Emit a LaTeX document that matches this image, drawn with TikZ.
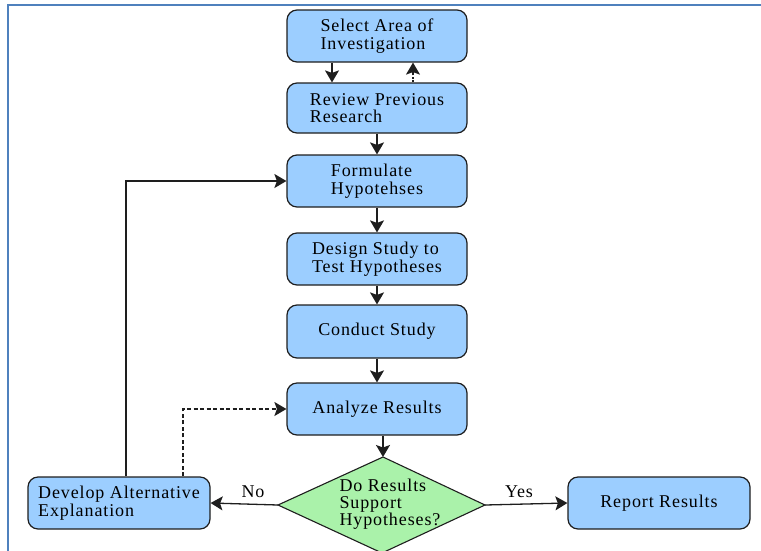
\documentclass[tikz,border=0pt]{standalone}
\usepackage{fontspec}
\setmainfont{Liberation Serif}[LetterSpace=5]
\usetikzlibrary{arrows.meta}
\definecolor{boxblue}{RGB}{156,206,255}
\definecolor{qgreen}{RGB}{170,242,170}
\definecolor{framebl}{RGB}{79,129,189}
\definecolor{edge}{RGB}{30,30,30}

\begin{document}
\begin{tikzpicture}[x=1pt,y=-1pt,
  stepbox/.style={draw=edge, fill=boxblue, rounded corners=10pt, line width=1.2pt,
    minimum width=180pt, minimum height=52pt, inner sep=0pt, align=left,
    font=\fontsize{18}{17.5}\selectfont},
  arr/.style={draw=edge, line width=1.3pt, -{Stealth[length=12pt,width=14pt,inset=2.5pt]}},
  lbl/.style={font=\fontsize{18}{17}\selectfont}]

\useasboundingbox (0,0) rectangle (761,550);
\clip (0,0) rectangle (761,550);

% frame
\draw[framebl, line width=2.5pt] (8,552) -- (8,5) -- (763,5);

% process steps
\node[stepbox] (sel)  at (377,36)    {Select Area of\\Investigation};
\node[stepbox, minimum height=50pt] (rev) at (377,108) {Review Previous\\Research};
\node[stepbox] (form) at (377,181)   {Formulate\\Hypotehses};
\node[stepbox] (des)  at (377,259)   {Design Study to\\Test Hypotheses};
\node[stepbox, minimum height=53pt] (con) at (377,331.5) {Conduct Study};
\node[stepbox] (ana)  at (377,409)   {Analyze Results};
\node[stepbox, minimum width=182pt] (dev)  at (119,503) {Develop Alternative\\Explanation};
\node[stepbox, minimum width=182pt] (rep)  at (659,503) {Report Results};

% decision
\coordinate (qT) at (383,457);
\coordinate (qR) at (485,505);
\coordinate (qB) at (382,553);
\coordinate (qL) at (278,505);
\draw[draw=edge, fill=qgreen, line width=1.1pt] (qT) -- (qR) -- (qB) -- (qL) -- cycle;
\node[align=left, inner sep=0pt, font=\fontsize{18}{17}\selectfont] (q) at (390,504)
  {Do Results\\Support\\Hypotheses?};

% connectors
\draw[arr] ([xshift=-45pt]sel.south) -- ([xshift=-45pt]rev.north);
\draw[arr, dash pattern=on 2pt off 1.5pt] ([xshift=36pt]rev.north) -- ([xshift=36pt]sel.south);
\draw[arr] (rev) -- (form);
\draw[arr] (form) -- (des);
\draw[arr] (des) -- (con);
\draw[arr] (con) -- (ana);
\draw[arr] ([xshift=6pt]ana.south) -- (qT);
\draw[arr] (qL) -- (dev.east);
\draw[arr] (qR) -- (rep.west);
\draw[arr] ([xshift=7pt]dev.north) |- (form.west);
\draw[arr, dash pattern=on 4pt off 2.5pt] ([xshift=64pt]dev.north) |- (ana.west);

% branch labels
\node[lbl] (no)  at (253,492) {No};
\node[lbl] (yes) at (519,492) {Yes};
\end{tikzpicture}
\end{document}
